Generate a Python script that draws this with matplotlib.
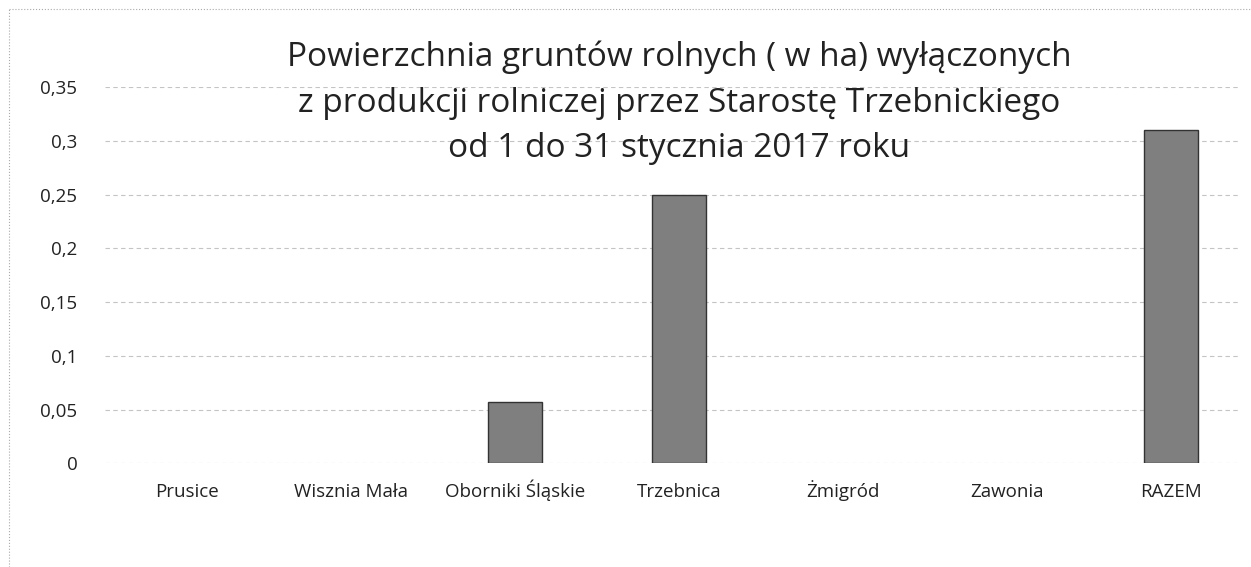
import numpy as np
import matplotlib
matplotlib.use("Agg")
import matplotlib.pyplot as plt
from matplotlib.ticker import FuncFormatter

# data
categories = ["Prusice", "Wisznia Mała", "Oborniki Śląskie", "Trzebnica", "Żmigród", "Zawonia", "RAZEM"]
area_ha = [0.0, 0.0, 0.057, 0.25, 0.0, 0.0, 0.31]
y_ticks = [0, 0.05, 0.1, 0.15, 0.2, 0.25, 0.3, 0.35]
title = "Powierzchnia gruntów rolnych ( w ha) wyłączonych\nz produkcji rolniczej przez Starostę Trzebnickiego\nod 1 do 31 stycznia 2017 roku"

plt.rcParams["font.family"] = ["Open Sans", "DejaVu Sans"]

fig = plt.figure(figsize=(12.51, 5.67), dpi=100)
ax = fig.add_axes([0.084, 0.183, 0.907, 0.663])

x = np.arange(len(categories))
# zero-valued bars leave no visible outline in the original
edge_w = [1.0 if v > 0 else 0.0 for v in area_ha]
ax.bar(x, area_ha, width=0.33, color="#7f7f7f", edgecolor="#333333", linewidth=edge_w, zorder=3)

ax.set_xlim(-0.5, 6.42)
ax.set_ylim(0, 0.35)
ax.set_yticks(y_ticks)
ax.yaxis.set_major_formatter(FuncFormatter(lambda v, p: f"{v:g}".replace(".", ",")))
ax.set_xticks(x)
ax.set_xticklabels(categories)
ax.tick_params(axis="both", length=0, labelsize=13.5, colors="#222222")
ax.tick_params(axis="x", pad=24)
ax.tick_params(axis="y", pad=20)
for lab in ax.get_xticklabels():
    lab.set_verticalalignment("baseline")
ax.grid(axis="y", color="#c4c4c4", linewidth=0.8, linestyle=(0, (4, 3)), zorder=0)
for s in ax.spines.values():
    s.set_visible(False)

fig.text(0.543, 0.928, title, ha="center", va="top", fontsize=24, color="#222222",
         linespacing=1.5)

# faint frame of the scanned chart area
fig.add_artist(plt.Line2D([0.007, 0.007], [0.0, 0.985], transform=fig.transFigure,
                          color="#aaaaaa", linewidth=0.8, linestyle=":"))
fig.add_artist(plt.Line2D([0.007, 1.0], [0.985, 0.985], transform=fig.transFigure,
                          color="#aaaaaa", linewidth=0.8, linestyle=":"))

fig.savefig("out.png", dpi=100)
